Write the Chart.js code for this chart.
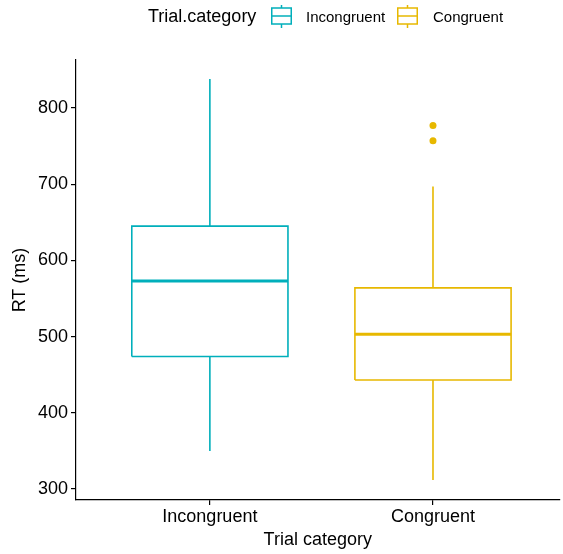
<!DOCTYPE html>
<html lang="en">
<head>
  <meta charset="UTF-8" />
  <title>RT by trial category</title>
  <script src="https://cdn.jsdelivr.net/npm/chart.js"></script>
  <style>
    body { margin: 0; background: #fff; font-family: "Liberation Sans", Arial, sans-serif; }
    #wrap { position: relative; width: 563px; height: 554px; overflow: hidden; }
    #legend { position: absolute; left: 0; top: 0; width: 563px; height: 34px; }
    #legend span, #legend svg { position: absolute; }
    .ltitle { font-size: 18px; top: 6px; color: #000; }
    .llabel { font-size: 15px; top: 8px; color: #000; }
  </style>
</head>
<body>
  <div id="wrap">
    <canvas id="rtChart" width="563" height="554"></canvas>
    <div id="legend"></div>
  </div>

  <script>
    // data
    const categories = ['Incongruent', 'Congruent'];
    const whiskerLow = [350, 312];
    const q1 = [474, 443];
    const median = [573, 503];
    const q3 = [645, 564];
    const whiskerHigh = [838, 697];
    const outliers = [[], [757, 777]];
    const yTicks = [300, 400, 500, 600, 700, 800];

    const colors = ['#00AFBB', '#E7B800'];
    const halfWidth = 0.35;

    // legend (title inline with keys, like ggplot's top legend)
    const legend = document.getElementById('legend');
    const glyph = (c, left) => `<svg style="left:${left}px;top:5px" width="21" height="23" viewBox="0 0 21 23">
      <line x1="10.5" y1="0" x2="10.5" y2="3" stroke="${c}" stroke-width="1.5"/>
      <rect x="0.75" y="3" width="19.5" height="16" fill="#fff" stroke="${c}" stroke-width="1.5"/>
      <line x1="0.75" y1="11" x2="20.25" y2="11" stroke="${c}" stroke-width="1.5"/>
      <line x1="10.5" y1="19" x2="10.5" y2="23" stroke="${c}" stroke-width="1.5"/></svg>`;
    legend.innerHTML =
      '<span class="ltitle" style="left:148px">Trial.category</span>' +
      glyph(colors[0], 271) +
      '<span class="llabel" style="left:306px">' + categories[0] + '</span>' +
      glyph(colors[1], 397) +
      '<span class="llabel" style="left:433px">' + categories[1] + '</span>';

    const datasets = [];
    categories.forEach((cat, i) => {
      const x = i + 1;
      const c = colors[i];
      const line = { showLine: true, pointRadius: 0, borderColor: c, backgroundColor: c,
                     fill: false, spanGaps: false, borderJoinStyle: 'miter', tension: 0 };
      // whiskers
      datasets.push(Object.assign({}, line, {
        label: cat + ' whiskers', borderWidth: 1.6,
        data: [{x: x, y: q3[i]}, {x: x, y: whiskerHigh[i]}, {x: x, y: null},
               {x: x, y: q1[i]}, {x: x, y: whiskerLow[i]}]
      }));
      // box
      datasets.push(Object.assign({}, line, {
        label: cat, borderWidth: 1.6,
        data: [{x: x - halfWidth, y: q1[i]}, {x: x + halfWidth, y: q1[i]},
               {x: x + halfWidth, y: q3[i]}, {x: x - halfWidth, y: q3[i]},
               {x: x - halfWidth, y: q1[i]}]
      }));
      // median
      datasets.push(Object.assign({}, line, {
        label: cat + ' median', borderWidth: 3,
        data: [{x: x - halfWidth, y: median[i]}, {x: x + halfWidth, y: median[i]}]
      }));
      // outliers
      datasets.push({
        label: cat + ' outliers', showLine: false, pointRadius: 3.5, pointHoverRadius: 3.5,
        pointBorderWidth: 0, backgroundColor: c, borderColor: c,
        data: outliers[i].map(v => ({x: x, y: v}))
      });
    });

    const tickFont = { family: '"Liberation Sans", Arial, sans-serif', size: 18 };

    new Chart(document.getElementById('rtChart').getContext('2d'), {
      type: 'scatter',
      data: { datasets: datasets },
      options: {
        responsive: false,
        animation: false,
        layout: { padding: { top: 60, right: 0, left: 0, bottom: 0 } },
        plugins: { legend: { display: false }, tooltip: { enabled: false } },
        scales: {
          x: {
            type: 'linear', min: 0.4, max: 2.567,
            afterBuildTicks: s => { s.ticks = categories.map((c, i) => ({ value: i + 1 })); },
            afterFit: s => { s.height = 54; },
            ticks: { color: '#000', font: tickFont, padding: 1,
                     callback: v => categories[v - 1] },
            grid: { display: true, drawOnChartArea: false, drawTicks: true, tickLength: 5, color: '#000', lineWidth: 1.2 },
            border: { display: true, color: '#000', width: 1.2 },
            title: { display: true, text: 'Trial category', color: '#000', font: tickFont, padding: { top: 0, bottom: 3 } }
          },
          y: {
            min: 285.6, max: 863,
            afterBuildTicks: s => { s.ticks = yTicks.map(v => ({ value: v })); },
            afterFit: s => { s.width = 76; },
            ticks: { color: '#000', font: tickFont, padding: 3 },
            grid: { display: true, drawOnChartArea: false, drawTicks: true, tickLength: 5, color: '#000', lineWidth: 1.2 },
            border: { display: true, color: '#000', width: 1.2 },
            title: { display: true, text: 'RT (ms)', color: '#000', font: tickFont, padding: { top: 9, bottom: 0 } }
          }
        }
      }
    });
  </script>
</body>
</html>
